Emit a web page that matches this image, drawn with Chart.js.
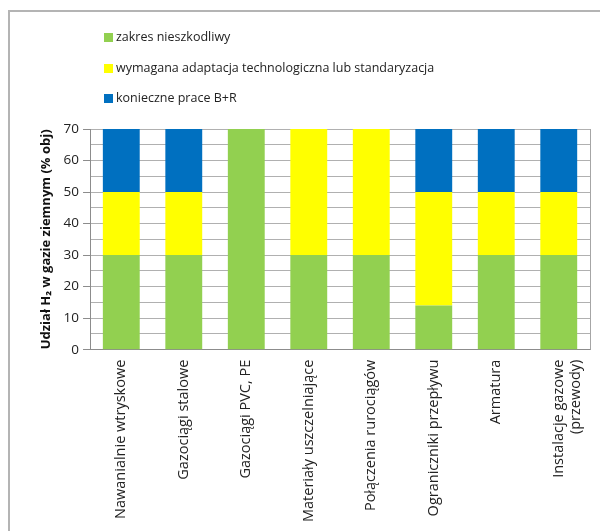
<!DOCTYPE html>
<html>
<head>
<meta charset="utf-8">
<script src="https://cdn.jsdelivr.net/npm/chart.js@4.4.1/dist/chart.umd.min.js"></script>
<style>
  html, body { margin: 0; padding: 0; background: #fff; }
  #wrap { position: relative; width: 600px; height: 531px; overflow: hidden; }
  #frame { position: absolute; left: 8px; top: 10px; width: 700px; height: 700px;
           border: 2px solid #b4b4b4; box-sizing: border-box; }
  #chart { position: absolute; left: 0; top: 0; }
  #legend { position: absolute; left: 104px; top: 28px; font-family: "Open Sans", sans-serif;
            font-size: 12.5px; color: #222; }
  #legend div { height: 30.5px; display: flex; align-items: flex-start; }
  #legend span.box { display: inline-block; width: 9px; height: 9px; margin: 5px 3px 0 0; }
</style>
</head>
<body>
<div id="wrap">
  <div id="frame"></div>
  <canvas id="chart" width="600" height="531"></canvas>
  <div id="legend"></div>
</div>
<script>
  var categories = [
    'Nawanialnie wtryskowe',
    'Gazociągi stalowe',
    'Gazociągi PVC, PE',
    'Materiały uszczelniające',
    'Połączenia rurociągów',
    'Ograniczniki przepływu',
    'Armatura',
    ['Instalacje gazowe', '(przewody)']
  ];
  var seriesNames = [
    'zakres nieszkodliwy',
    'wymagana adaptacja technologiczna lub standaryzacja',
    'konieczne prace B+R'
  ];
  var harmless = [30, 30, 70, 30, 30, 14, 30, 30];
  var adaptation = [20, 20, 0, 40, 40, 36, 20, 20];
  var research = [20, 20, 0, 0, 0, 20, 20, 20];
  var yTicks = [0, 10, 20, 30, 40, 50, 60, 70];

  var colors = ['#92d050', '#ffff00', '#0070c0'];

  // right edge of the plot area
  var plotFrame = {
    id: 'plotFrame',
    afterDraw: function (chart) {
      var a = chart.chartArea, ctx = chart.ctx;
      ctx.save();
      ctx.strokeStyle = '#a6a6a6';
      ctx.lineWidth = 1;
      ctx.beginPath();
      ctx.moveTo(Math.round(a.right) + 0.5, a.top);
      ctx.lineTo(Math.round(a.right) + 0.5, a.bottom);
      ctx.stroke();
      ctx.restore();
    }
  };

  var ctx = document.getElementById('chart').getContext('2d');
  var chart = new Chart(ctx, {
    type: 'bar',
    data: {
      labels: categories,
      datasets: [
        { label: seriesNames[0], data: harmless, backgroundColor: colors[0] },
        { label: seriesNames[1], data: adaptation, backgroundColor: colors[1] },
        { label: seriesNames[2], data: research, backgroundColor: colors[2] }
      ]
    },
    options: {
      responsive: false,
      animation: false,
      layout: { padding: { left: 38, right: 10, top: 129, bottom: 7 } },
      datasets: { bar: { categoryPercentage: 1, barPercentage: 0.59 } },
      plugins: {
        legend: { display: false },
        tooltip: { enabled: false }
      },
      scales: {
        x: {
          stacked: true,
          grid: { display: false },
          border: { color: '#8c8c8c' },
          ticks: {
            minRotation: 90, maxRotation: 90, autoSkip: false, padding: 2,
            color: '#222', font: { family: 'Open Sans', size: 14.5 }
          }
        },
        y: {
          stacked: true,
          min: 0, max: 70,
          grid: {
            color: '#b0b0b0',
            tickLength: 7,
            tickColor: function (c) {
              return yTicks.indexOf(c.tick.value) >= 0 ? '#8c8c8c' : 'rgba(0,0,0,0)';
            }
          },
          border: { color: '#8c8c8c' },
          ticks: {
            stepSize: 5, maxTicksLimit: 20, autoSkip: false,
            padding: 4, color: '#222', font: { family: 'Open Sans', size: 13.5 },
            callback: function (v) { return yTicks.indexOf(v) >= 0 ? v : ''; }
          },
          title: {
            display: true,
            text: 'Udział H₂ w gazie ziemnym (% obj)',
            color: '#111',
            font: { family: 'Open Sans', size: 13, weight: 'bold' },
            padding: { top: 0, bottom: 6 }
          }
        }
      }
    },
    plugins: [plotFrame]
  });

  // legend, one entry per line
  var legend = document.getElementById('legend');
  chart.data.datasets.forEach(function (ds) {
    var row = document.createElement('div');
    var box = document.createElement('span');
    box.className = 'box';
    box.style.background = ds.backgroundColor;
    row.appendChild(box);
    row.appendChild(document.createTextNode(ds.label));
    legend.appendChild(row);
  });
</script>
</body>
</html>
